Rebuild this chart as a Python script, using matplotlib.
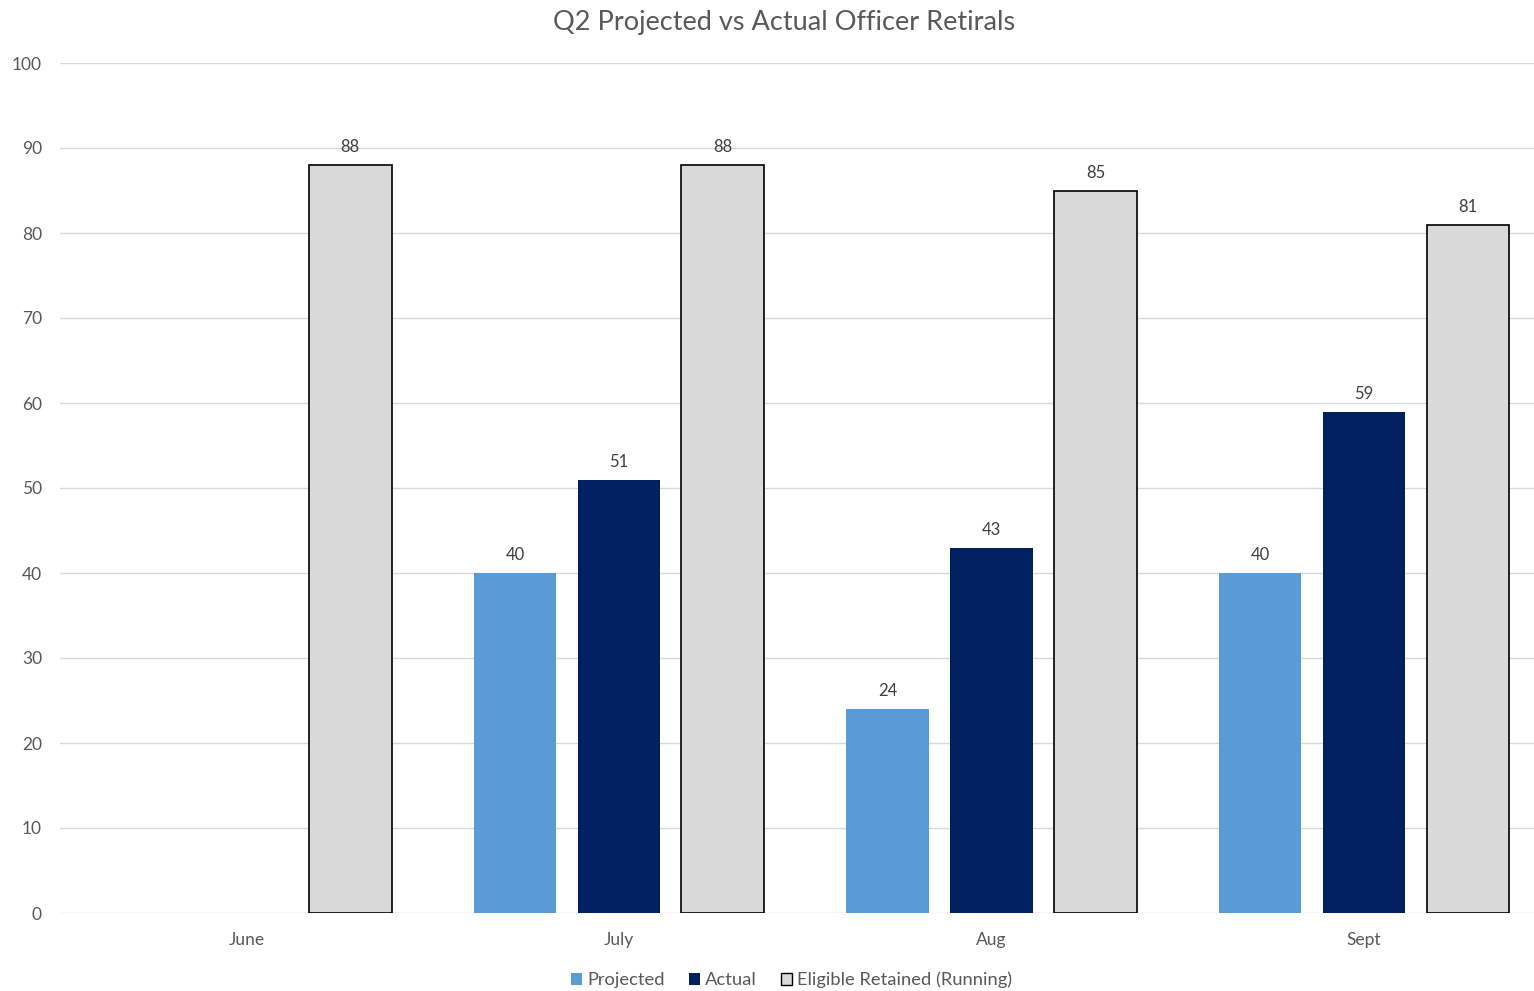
import numpy as np
import matplotlib
matplotlib.use("Agg")
import matplotlib.pyplot as plt
from matplotlib.patches import Patch

plt.rcParams['font.family'] = ['Lato', 'DejaVu Sans']

months = ["June", "July", "Aug", "Sept"]
projected = [np.nan, 40, 24, 40]
actual = [np.nan, 51, 43, 59]
eligible = [88, 88, 85, 81]
series_names = ["Projected", "Actual", "Eligible Retained (Running)"]

fig = plt.figure(figsize=(15.34, 9.91), dpi=100)
ax = fig.add_axes([60/1534, 1-913/991, 1474/1534, 850/991])

x = np.arange(len(months))
off = 0.279
w = 0.222
b1 = ax.bar(x - off, projected, w, color="#5B9BD5", zorder=3)
b2 = ax.bar(x, actual, w, color="#002060", zorder=3)
b3 = ax.bar(x + off, eligible, w, color="#D9D9D9", edgecolor="#000000", linewidth=1.2, zorder=3)

for bars, vals in ((b1, projected), (b2, actual), (b3, eligible)):
    for rect, v in zip(bars, vals):
        if np.isnan(v):
            continue
        ax.annotate(f"{int(v)}", (rect.get_x() + rect.get_width()/2, v),
                    xytext=(0, 7), textcoords="offset points", ha="center", va="bottom",
                    fontsize=12, color="#404040")

ax.set_xlim(-0.5, 3.456)
ax.set_ylim(0, 100)
ax.set_yticks(range(0, 101, 10))
ax.set_xticks(x)
ax.set_xticklabels(months)
ax.yaxis.grid(True, color="#D9D9D9", linewidth=1, zorder=0)
for s in ax.spines.values():
    s.set_visible(False)
ax.tick_params(axis="both", length=0, labelsize=12.5, labelcolor="#595959")
ax.tick_params(axis="x", pad=14)
ax.tick_params(axis="y", pad=13)

fig.suptitle("Q2 Projected vs Actual Officer Retirals", x=0.511, y=0.99, fontsize=19.5, color="#595959")

handles = [Patch(facecolor="#5B9BD5"), Patch(facecolor="#002060"),
           Patch(facecolor="#D9D9D9", edgecolor="#000000")]
fig.legend(handles, series_names, loc="lower center", bbox_to_anchor=(0.516, -0.014), ncol=3,
           frameon=False, fontsize=13.2, labelcolor="#595959", handlelength=0.6, handleheight=0.6,
           handletextpad=0.3, columnspacing=1.3)

fig.savefig("out.png", dpi=100)
